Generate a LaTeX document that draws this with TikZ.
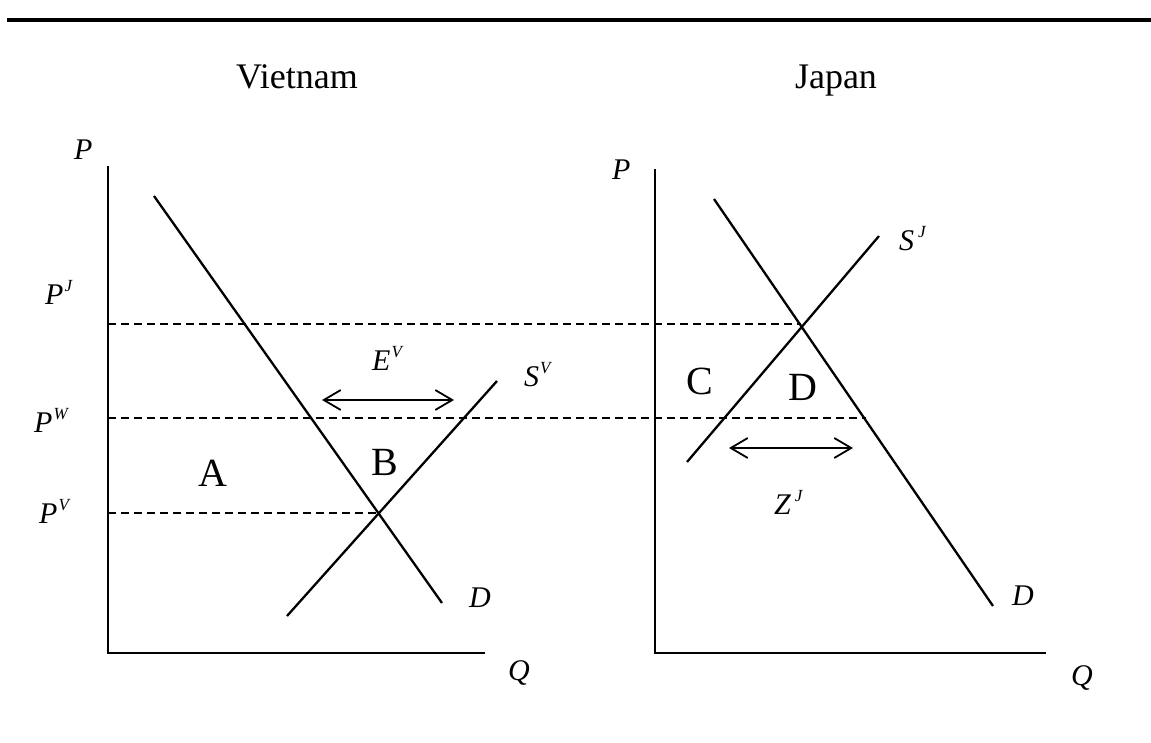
\documentclass[tikz,border=0pt]{standalone}
\usepackage{fontspec}
\setmainfont{Liberation Serif}
\usetikzlibrary{arrows.meta}
\newcommand\supx[1]{\kern1pt\raisebox{13pt}{\fontsize{17}{17}\selectfont #1}}
\begin{document}
\begin{tikzpicture}[x=1pt,y=-1pt,
  axisline/.style={line width=2.3pt},
  curve/.style={line width=2.3pt},
  guide/.style={line width=1.8pt, dash pattern=on 8pt off 5pt},
  span/.style={line width=1.8pt, {Straight Barb[length=17pt,width=20pt,line width=1.8pt]}-{Straight Barb[length=17pt,width=20pt,line width=1.8pt]}},
  lab/.style={font=\fontsize{30}{30}\selectfont\itshape, inner sep=0pt, anchor=base west},
  area/.style={font=\fontsize{40}{40}\selectfont, inner sep=0pt, anchor=base west},
  ttl/.style={font=\fontsize{36}{36}\selectfont, inner sep=0pt, anchor=base}]
\useasboundingbox (0,0) rectangle (1151,743);
% top rule
\coordinate (ruleL) at (7,20);
\coordinate (ruleR) at (1151,20);
\draw[line width=4.5pt] (ruleL) -- (ruleR);
% titles
\node[ttl] (tV) at (297,89) {Vietnam};
\node[ttl] (tJ) at (836,89) {Japan};
% ---- Vietnam panel ----
\coordinate (vO) at (108,653);
\coordinate (vTop) at (108,166);
\coordinate (vRight) at (485,653);
\draw[axisline] (vTop) -- (vO) -- (vRight);
\coordinate (vD1) at (154,196);
\coordinate (vD2) at (442,603);
\coordinate (vS1) at (287,616);
\coordinate (vS2) at (497,381);
\draw[curve] (vD1) -- (vD2);
\draw[curve] (vS1) -- (vS2);
\coordinate (vPJ) at (108,324);
\coordinate (vPW) at (108,418);
\coordinate (vPV) at (108,513);
\coordinate (vEq) at (378,513);
\draw[guide] (vPV) -- (vEq);
\coordinate (eL) at (322,400);
\coordinate (eR) at (454,400);
\draw[span] (eL) -- (eR);
\node[lab] (P1) at (74,160) {P};
\node[lab] (PJ) at (45,305) {P\supx{J}};
\node[lab] (PW) at (34,432) {P\supx{W}};
\node[lab] (PV) at (39,523) {P\supx{V}};
\node[lab] (EV) at (372,370) {E\supx{V}};
\node[lab] (SV) at (524,386) {S\supx{V}};
\node[lab] (D1) at (469,607) {D};
\node[lab] (Q1) at (508,680) {Q};
\node[area] (A) at (198,486) {A};
\node[area] (B) at (371,475) {B};
% ---- Japan panel ----
\coordinate (jO) at (655,653);
\coordinate (jTop) at (655,169);
\coordinate (jRight) at (1046,653);
\draw[axisline] (jTop) -- (jO) -- (jRight);
\coordinate (jD1) at (714,199);
\coordinate (jD2) at (993,606);
\coordinate (jS1) at (687,462);
\coordinate (jS2) at (879,236);
\draw[curve] (jD1) -- (jD2);
\draw[curve] (jS1) -- (jS2);
\coordinate (jEq) at (801,324);
\coordinate (jW) at (866,418);
\draw[guide] (vPJ) -- (jEq);
\draw[guide] (vPW) -- (jW);
\coordinate (zL) at (729,448);
\coordinate (zR) at (853,448);
\draw[span] (zL) -- (zR);
\node[lab] (P2) at (612,180) {P};
\node[lab] (SJ) at (899,251) {S\kern3pt\supx{J}};
\node[lab] (ZJ) at (774,514) {Z\kern3pt\supx{J}};
\node[lab] (D2) at (1012,605) {D};
\node[lab] (Q2) at (1071,685) {Q};
\node[area] (C) at (686,394) {C};
\node[area] (Dar) at (788,400) {D};
\end{tikzpicture}
\end{document}
